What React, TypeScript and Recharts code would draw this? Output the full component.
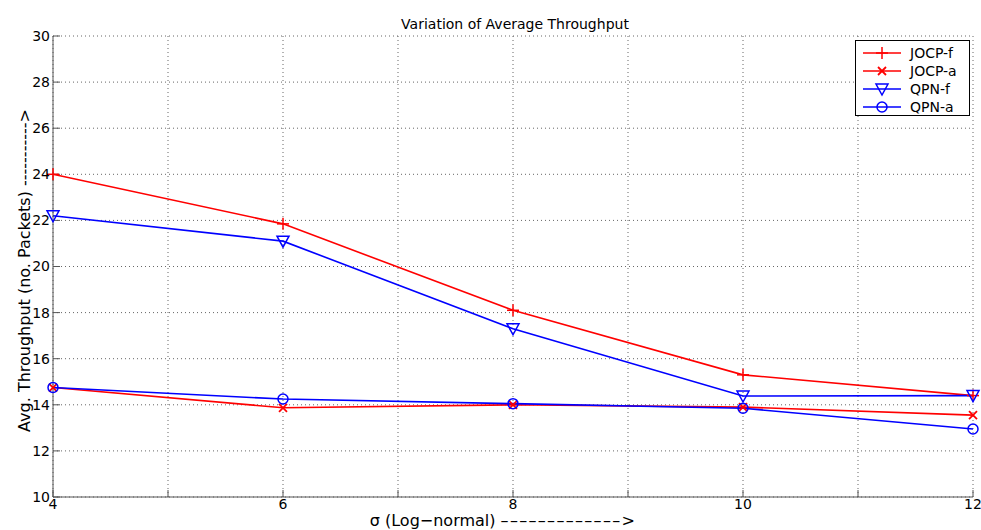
import { CartesianGrid, Line, LineChart, XAxis, YAxis } from 'recharts';

// Average throughput against sigma of the log-normal shadowing.
const sigma = [4, 6, 8, 10, 12];
const jocpF = [24.0, 21.85, 18.1, 15.3, 14.4];
const jocpA = [14.75, 13.87, 14.0, 13.9, 13.55];
const qpnF = [22.2, 21.1, 17.3, 14.38, 14.4];
const qpnA = [14.75, 14.25, 14.05, 13.85, 12.95];

const xTicks = [4, 5, 6, 7, 8, 9, 10, 11, 12];
const yTicks = [10, 12, 14, 16, 18, 20, 22, 24, 26, 28, 30];

const TITLE = 'Variation of Average Throughput';
const X_LABEL = 'σ (Log−normal) ';
const X_ARROW = '–––––––––––––>';
const Y_LABEL = 'Avg. Throughput (no. Packets) ----------->';

const RED = '#ff0000';
const BLUE = '#0000ff';
const FONT = '"DejaVu Sans", Verdana, sans-serif';
const AXIS_COLOR = '#555';

const rows = sigma.map((s, i) => ({
  sigma: s,
  jocpF: jocpF[i],
  jocpA: jocpA[i],
  qpnF: qpnF[i],
  qpnA: qpnA[i],
}));

type Shape = 'plus' | 'cross' | 'tri' | 'circle';

function marker(shape: Shape, x: number, y: number, color: string, key?: string | number) {
  switch (shape) {
    case 'plus':
      return (
        <g key={key} stroke={color} strokeWidth={1.5}>
          <line x1={x - 6} y1={y} x2={x + 6} y2={y} />
          <line x1={x} y1={y - 6} x2={x} y2={y + 6} />
        </g>
      );
    case 'cross':
      return (
        <g key={key} stroke={color} strokeWidth={1.8}>
          <line x1={x - 4} y1={y - 4} x2={x + 4} y2={y + 4} />
          <line x1={x - 4} y1={y + 4} x2={x + 4} y2={y - 4} />
        </g>
      );
    case 'tri':
      return (
        <polygon
          key={key}
          points={`${x - 6},${y - 5} ${x + 6},${y - 5} ${x},${y + 6}`}
          fill="none"
          stroke={color}
          strokeWidth={1.5}
        />
      );
    default:
      return <circle key={key} cx={x} cy={y} r={5} fill="none" stroke={color} strokeWidth={1.5} />;
  }
}

const dotFor = (shape: Shape, color: string) => (props: any) => {
  const { cx, cy, index } = props;
  if (cx == null || cy == null) return <g key={index} />;
  return marker(shape, cx, cy, color, index);
};

const SERIES: { key: string; name: string; color: string; shape: Shape }[] = [
  { key: 'jocpF', name: 'JOCP-f', color: RED, shape: 'plus' },
  { key: 'jocpA', name: 'JOCP-a', color: RED, shape: 'cross' },
  { key: 'qpnF', name: 'QPN-f', color: BLUE, shape: 'tri' },
  { key: 'qpnA', name: 'QPN-a', color: BLUE, shape: 'circle' },
];

const TICK_STYLE = { fontSize: 14, fill: '#000', fontFamily: FONT };

// axis titles, placed relative to the axis box that recharts hands over
const xLabel = ({ viewBox }: any) => (
  <text
    x={viewBox.x + viewBox.width / 2 - 10}
    y={viewBox.y + 29}
    textAnchor="middle"
    fontSize={16}
    fontFamily={FONT}
    fill="#000"
  >
    {X_LABEL}
    <tspan letterSpacing={1.3}>{X_ARROW}</tspan>
  </text>
);

const yLabel = ({ viewBox }: any) => {
  const cx = viewBox.x + 24;
  const cy = viewBox.y + viewBox.height / 2 + 4;
  return (
    <text
      transform={`translate(${cx},${cy}) rotate(-90)`}
      textAnchor="middle"
      dy="0.35em"
      fontSize={16}
      fontFamily={FONT}
      fill="#000"
    >
      {Y_LABEL}
    </text>
  );
};

export default function App() {
  return (
    <div style={{ position: 'absolute', left: 0, top: 0, width: 981, height: 530, background: '#fff' }}>
      <div
        style={{
          position: 'absolute',
          top: 16,
          left: 55,
          width: 920,
          textAlign: 'center',
          fontFamily: FONT,
          fontSize: 14,
          lineHeight: '16px',
        }}
      >
        {TITLE}
      </div>

      <LineChart width={981} height={530} data={rows} margin={{ top: 36, right: 8, bottom: 0, left: 0 }}>
        <CartesianGrid stroke="#666" strokeDasharray="1 3" />
        <XAxis
          dataKey="sigma"
          type="number"
          domain={[4, 12]}
          ticks={xTicks}
          interval={0}
          height={33}
          stroke={AXIS_COLOR}
          tickSize={-7}
          tickMargin={9}
          tick={TICK_STYLE}
          tickFormatter={(v: number) => (v % 2 === 0 ? String(v) : '')}
          label={{ content: xLabel }}
        />
        <YAxis
          type="number"
          domain={[10, 30]}
          ticks={yTicks}
          interval={0}
          width={53}
          stroke={AXIS_COLOR}
          tickSize={-7}
          tickMargin={10}
          tick={TICK_STYLE}
          label={{ content: yLabel }}
        />
        {SERIES.map((s) => (
          <Line
            key={s.key}
            dataKey={s.key}
            name={s.name}
            stroke={s.color}
            strokeWidth={1.6}
            dot={dotFor(s.shape, s.color)}
            activeDot={false}
            isAnimationActive={false}
          />
        ))}
      </LineChart>

      <div
        style={{
          position: 'absolute',
          left: 855,
          top: 40,
          width: 115,
          height: 76,
          border: '1px solid #000',
          background: '#fff',
          fontFamily: FONT,
          fontSize: 14,
          boxSizing: 'border-box',
          paddingTop: 3,
        }}
      >
        {SERIES.map((s) => (
          <div key={s.key} style={{ display: 'flex', alignItems: 'center', height: 18 }}>
            <svg width={50} height={16} style={{ marginLeft: 4 }}>
              <line x1={3} y1={8} x2={41} y2={8} stroke={s.color} strokeWidth={1.6} />
              {marker(s.shape, 22, 8, s.color)}
            </svg>
            <span style={{ lineHeight: '16px' }}>{s.name}</span>
          </div>
        ))}
      </div>
    </div>
  );
}
